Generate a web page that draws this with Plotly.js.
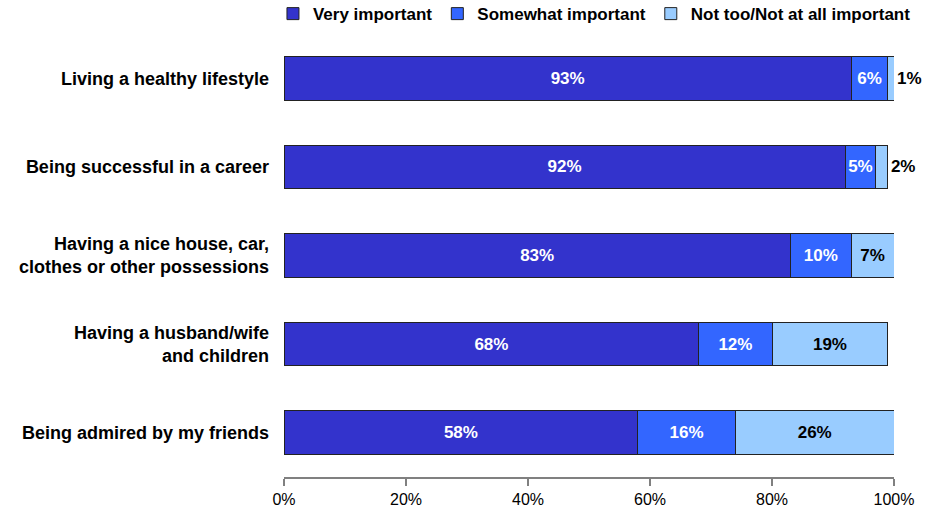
<!DOCTYPE html>
<html>
<head>
<meta charset="utf-8">
<script src="https://cdn.plot.ly/plotly-3.0.1.min.js"></script>
<style>html,body{margin:0;padding:0;background:#fff;}#chart{width:928px;height:510px;}</style>
</head>
<body>
<div id="chart"></div>
<script>
var categories = [
  "Living a healthy lifestyle",
  "Being successful in a career",
  "Having a nice house, car,<br>clothes or other possessions",
  "Having a husband/wife<br>and children",
  "Being admired by my friends"
];
var veryImportant = [93, 92, 83, 68, 58];
var somewhatImportant = [6, 5, 10, 12, 16];
var notImportant = [1, 2, 7, 19, 26];
var seriesNames = ["Very important", "Somewhat important", "Not too/Not at all important"];
var tickVals = [0, 20, 40, 60, 80, 100];
var tickText = ["0%", "20%", "40%", "60%", "80%", "100%"];

var FONT = "Liberation Sans, Arial, sans-serif";
function pct(a){ return a.map(function(v){ return "<b>" + v + "%</b>"; }); }

function mk(vals, name, color, txtColor, positions){
  return {
    type: "bar", orientation: "h",
    y: categories, x: vals, name: name,
    marker: {color: color, line: {color: "#222222", width: 1}},
    text: pct(vals),
    textposition: positions,
    textangle: 0,
    insidetextanchor: "middle",
    constraintext: "none",
    textfont: {family: FONT, size: 17, color: txtColor},
    cliponaxis: false,
    width: 0.49,
    hoverinfo: "skip"
  };
}

var data = [
  mk(veryImportant, seriesNames[0], "#3333CC", "#FFFFFF", "inside"),
  mk(somewhatImportant, seriesNames[1], "#3366FF", "#FFFFFF", "inside"),
  mk(notImportant, seriesNames[2], "#99CCFF", "#000000",
     notImportant.map(function(v){ return v < 5 ? "outside" : "inside"; }))
];

var layout = {
  width: 928, height: 510,
  margin: {l: 284, r: 34, t: 34, b: 33, autoexpand: false},
  barmode: "stack",
  paper_bgcolor: "#FFFFFF", plot_bgcolor: "#FFFFFF",
  font: {family: FONT, color: "#000000"},
  showlegend: true,
  legend: {
    orientation: "h", x: 1.036, xanchor: "right", y: 1.045, yanchor: "middle",
    font: {family: FONT, size: 17, color: "#000", weight: "bold"},
    traceorder: "normal",
    itemwidth: 30, bgcolor: "rgba(0,0,0,0)"
  },
  xaxis: {
    range: [0, 100], tickvals: tickVals, ticktext: tickText,
    showgrid: false, zeroline: false,
    showline: true, linecolor: "#808080", linewidth: 1.5,
    ticks: "outside", ticklen: 7, tickcolor: "#808080", tickwidth: 1.5,
    tickfont: {family: FONT, size: 16, color: "#000"},
    fixedrange: true
  },
  yaxis: {
    autorange: "reversed",
    type: "category",
    showgrid: false, zeroline: false, showline: false,
    ticks: "", ticklabelstandoff: 14,
    tickfont: {family: FONT, size: 18, color: "#000", weight: "bold"},
    fixedrange: true
  }
};

Plotly.newPlot("chart", data, layout, {displayModeBar: false, staticPlot: true});
</script>
</body>
</html>
